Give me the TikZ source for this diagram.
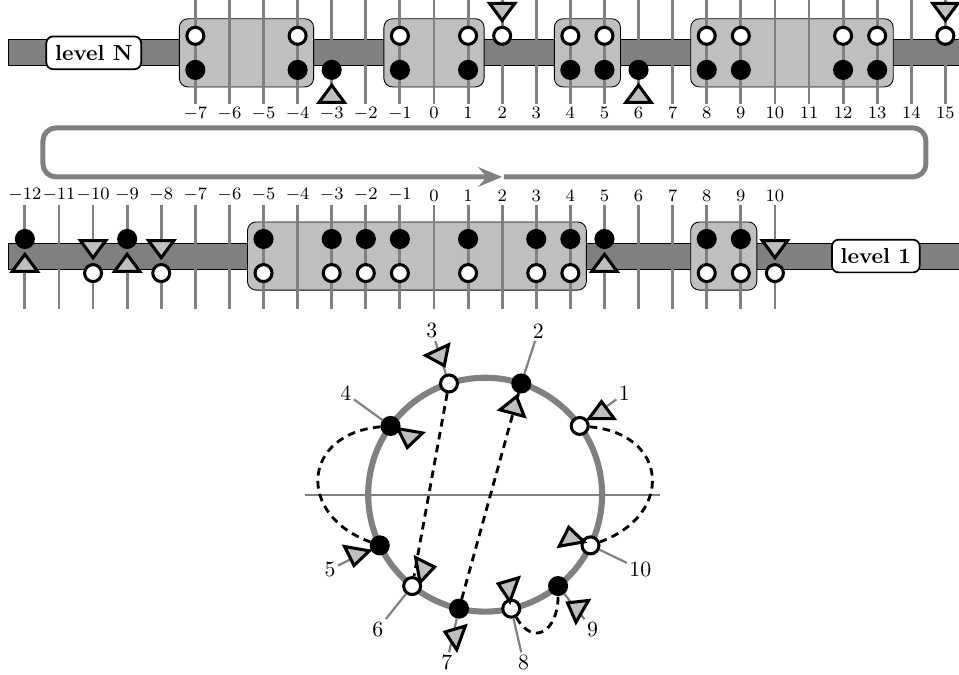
\documentclass[tikz,border=0pt]{standalone}
\usetikzlibrary{arrows.meta}

\begin{document}
\begin{tikzpicture}[x=0.55cm,y=0.55cm,>={Stealth[length=11pt,width=9pt,inset=4pt]},
    bar/.style={fill=gray,draw=black,line width=0.4pt},
    blk/.style={fill=black!25,draw=black,line width=0.4pt,rounded corners=4pt},
    tick/.style={draw=gray,line width=1.3pt},
    num/.style={font=\footnotesize,inner sep=1.5pt},
    full/.style={circle,draw=black,fill=black,line width=1.4pt,minimum size=7.8pt,inner sep=0pt},
    hollow/.style={full,fill=white},
    level/.style={draw=black,fill=white,line width=0.8pt,rounded corners=3pt,inner sep=4pt,font=\bfseries},
    trig/.style={draw=black,fill=black!25,line width=1.4pt},
    tri/.pic={\draw[trig] (0.25,0) -- (-0.25,0.37) -- (-0.25,-0.37) -- cycle;},
    ring/.style={draw=gray,line width=2.8pt},
    spoke/.style={draw=gray,line width=1pt},
    link/.style={draw=black,line width=1.3pt,dash pattern=on 3.5pt off 2.5pt}]

  \useasboundingbox (-12.73,-18.24) rectangle (15.4,1.55);

  % level N
  \draw[bar] (-12.49,-0.38) rectangle (15.6,0.38);
  \foreach \a/\b in {-7/-4,-1/1,4/5,8/13}
    \draw[blk] (\a-0.47,-1) rectangle (\b+0.47,1);
  \foreach \x in {-7,...,15} {
    \draw[tick] (\x,1.6) -- (\x,-1.5);
    \node[num,anchor=north] (tn\x) at (\x,-1.5) {$\x$};
  }
  \foreach \x in {-7,-4,-1,1,4,5,8,9,12,13} {
    \node[hollow] (to\x) at (\x,0.5) {};
    \node[full]   (tf\x) at (\x,-0.5) {};
  }
  \foreach \x in {-3,6} {
    \node[full] (tf\x) at (\x,-0.5) {};
    \pic[rotate=90] at (\x,-1.2) {tri};
  }
  \foreach \x in {2,15} {
    \node[hollow] (to\x) at (\x,0.5) {};
    \pic[rotate=-90] at (\x,1.2) {tri};
  }
  \node[level] (levN) at (-9.98,0) {level N};

  % loop back
  \draw[gray,line width=2.3pt,rounded corners=6pt,->] (2.05,-3.64) -- (14.43,-3.64)
    -- (14.43,-2.2) -- (-11.47,-2.2) -- (-11.47,-3.64) -- (2,-3.64);

  % level 1
  \draw[bar] (-12.49,-6.34) rectangle (15.6,-5.58);
  \foreach \a/\b in {-5/4,8/9}
    \draw[blk] (\a-0.47,-6.96) rectangle (\b+0.47,-4.96);
  \foreach \x in {-12,...,10} {
    \draw[tick] (\x,-4.46) -- (\x,-7.5);
    \node[num,anchor=south] (bn\x) at (\x,-4.46) {$\x$};
  }
  \foreach \x in {-5,-3,-2,-1,1,3,4,8,9} {
    \node[full]   (bf\x) at (\x,-5.46) {};
    \node[hollow] (bo\x) at (\x,-6.46) {};
  }
  \foreach \x in {-12,-9,5} {
    \node[full] (bf\x) at (\x,-5.46) {};
    \pic[rotate=90] at (\x,-6.16) {tri};
  }
  \foreach \x in {-10,-8,10} {
    \node[hollow] (bo\x) at (\x,-6.46) {};
    \pic[rotate=-90] at (\x,-5.76) {tri};
  }
  \node[level] (lev1) at (12.96,-5.96) {level 1};

  % circle
  \begin{scope}[shift={(1.5,-12.96)}]
    \draw[spoke] (-5.28,0) -- (5.13,0);
    \draw[ring] (0,0) circle (3.43);
    \foreach \i/\a/\s in {1/36/hollow,2/72/full,3/108/hollow,4/144/full,5/205.7/full,
                          6/231.4/hollow,7/257.1/full,8/282.9/hollow,9/308.6/full,10/334.3/hollow} {
      \node[\s] (p\i) at (\a:3.43) {};
      \node[inner sep=1pt] (l\i) at (\a:5.05) {\i};
      \draw[spoke] (p\i) -- (l\i);
    }
    \draw[link] (p4) to[out=185,in=160,looseness=1.75] (p5);
    \draw[link] (p1) to[out=-5,in=20,looseness=1.75] (p10);
    \draw[link] (p8) to[out=-60,in=-90,looseness=1.9] (p9);
    \draw[link] (p3) -- (p6);
    \draw[link] (p7) -- (p2);
    \foreach \a/\r/\t in {36/4.22/90,72/2.77/75,108/4.22/-65,144/2.77/-100,205.7/4.22/-100,
                          231.4/2.77/10,257.1/4.22/160,282.9/2.77/160,308.6/4.22/150,334.3/2.77/100}
      \pic[rotate=\t] at (\a:\r) {tri};
  \end{scope}
\end{tikzpicture}
\end{document}
